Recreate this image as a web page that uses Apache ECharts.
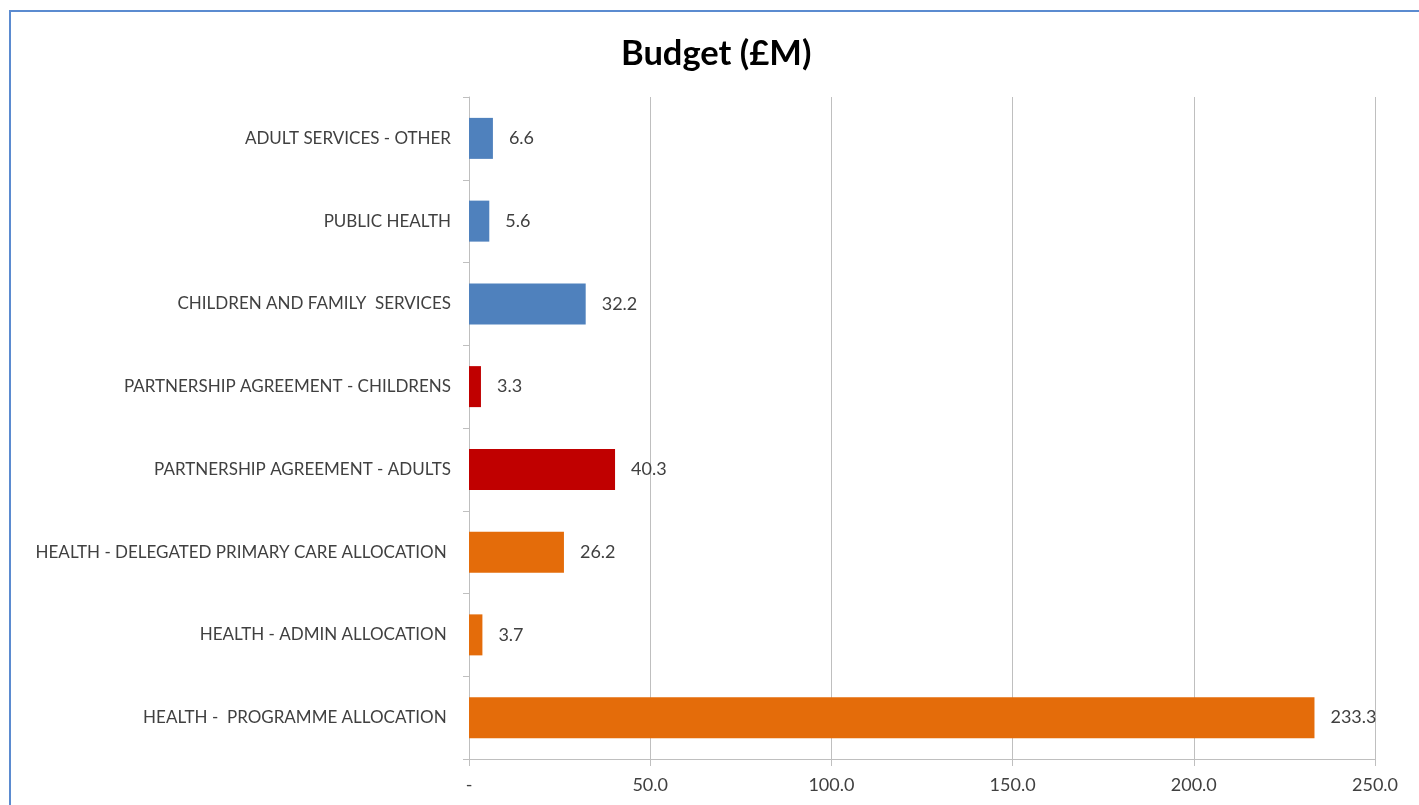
<!DOCTYPE html>
<html>
<head>
<meta charset="utf-8">
<script src="https://cdn.jsdelivr.net/npm/echarts@6/dist/echarts.min.js"></script>
<style>
html,body{margin:0;padding:0;background:#fff;overflow:hidden;}
#frame{position:absolute;left:9px;top:10px;width:1500px;height:900px;border:2px solid #5b8bd0;box-sizing:border-box;}
#chart{position:absolute;left:0;top:0;width:1419px;height:805px;}
</style>
</head>
<body>
<div id="frame"></div>
<div id="chart"></div>
<script>
const categories = [
  'HEALTH -  PROGRAMME ALLOCATION ',
  'HEALTH - ADMIN ALLOCATION ',
  'HEALTH - DELEGATED PRIMARY CARE ALLOCATION ',
  'PARTNERSHIP AGREEMENT - ADULTS',
  'PARTNERSHIP AGREEMENT - CHILDRENS',
  'CHILDREN AND FAMILY  SERVICES',
  'PUBLIC HEALTH',
  'ADULT SERVICES - OTHER'
];
const values = [233.3, 3.7, 26.2, 40.3, 3.3, 32.2, 5.6, 6.6];
const barColors = ['#E46C0A', '#E46C0A', '#E46C0A', '#C00000', '#C00000', '#4F81BD', '#4F81BD', '#4F81BD'];
const xTicks = [0, 50, 100, 150, 200, 250];

const chart = echarts.init(document.getElementById('chart'));
chart.setOption({
  animation: false,
  title: {
    text: 'Budget (£M)',
    left: 616,
    top: 31,
    textStyle: {fontFamily: 'Lato', fontWeight: 'bold', fontSize: 34.5, color: '#000'}
  },
  grid: {left: 469, right: 44, top: 97, bottom: 46},
  xAxis: {
    type: 'value',
    min: xTicks[0],
    max: xTicks[xTicks.length - 1],
    interval: 50,
    axisLine: {show: true, lineStyle: {color: '#BFBFBF'}},
    axisTick: {show: true, length: 7, lineStyle: {color: '#BFBFBF'}},
    splitLine: {show: true, lineStyle: {color: '#BFBFBF'}},
    axisLabel: {
      margin: 17,
      fontFamily: 'Lato', fontSize: 18, color: '#404040',
      formatter: v => v === 0 ? '-' : v.toFixed(1)
    }
  },
  yAxis: {
    type: 'category',
    data: categories,
    axisLine: {show: true, lineStyle: {color: '#BFBFBF'}},
    axisTick: {show: true, length: 6, lineStyle: {color: '#BFBFBF'}},
    axisLabel: {margin: 18, fontFamily: 'Lato', fontSize: 17, color: '#404040'}
  },
  series: [{
    type: 'bar',
    barWidth: 41,
    data: values.map((v, i) => ({value: v, itemStyle: {color: barColors[i]}})),
    label: {
      show: true,
      position: 'right',
      distance: 16,
      fontFamily: 'Lato', fontSize: 18, color: '#404040',
      formatter: p => p.value.toFixed(1)
    }
  }]
});
</script>
</body>
</html>
